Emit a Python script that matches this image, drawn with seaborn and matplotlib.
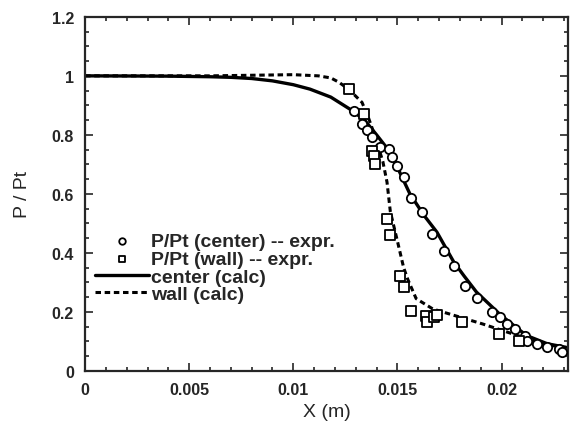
import numpy as np
import pandas as pd
import seaborn as sns
import matplotlib.pyplot as plt
from matplotlib.ticker import MultipleLocator, FuncFormatter

# calculated profiles
center_x = [0, 0.004, 0.006, 0.007, 0.008, 0.009, 0.010, 0.0108, 0.0118, 0.0127, 0.0134, 0.014,
            0.0145, 0.015, 0.0156, 0.0163, 0.0169, 0.0177, 0.0182, 0.0188, 0.01995, 0.0212,
            0.0222, 0.0231]
center_y = [1.0, 0.999, 0.997, 0.995, 0.991, 0.983, 0.970, 0.955, 0.928, 0.888, 0.852, 0.80,
            0.755, 0.69, 0.60, 0.525, 0.47, 0.37, 0.322, 0.267, 0.19, 0.12,
            0.092, 0.08]

wall_x = [0, 0.006, 0.01, 0.0112, 0.0118, 0.0122, 0.0127, 0.0133, 0.0136, 0.0139, 0.0143, 0.0145,
          0.01466, 0.015, 0.0153, 0.0155, 0.0159, 0.0167, 0.0175, 0.0191, 0.0203, 0.0215,
          0.0228, 0.0231]
wall_y = [1.0, 1.0, 1.004, 1.0, 0.993, 0.978, 0.952, 0.91, 0.86, 0.80, 0.71, 0.64,
          0.54, 0.44, 0.35, 0.31, 0.245, 0.21, 0.193, 0.159, 0.131, 0.103,
          0.08, 0.075]

# experimental points
center_exp_x = [0.0129, 0.0133, 0.01354, 0.01378, 0.01418, 0.01458, 0.01474, 0.01499, 0.0153,
                0.01563, 0.01618, 0.01666, 0.01723, 0.01771, 0.01827, 0.01883, 0.01955, 0.01995,
                0.02027, 0.02067, 0.02115, 0.02123, 0.02171, 0.0222, 0.02276, 0.02292]
center_exp_y = [0.882, 0.837, 0.815, 0.792, 0.758, 0.753, 0.724, 0.696, 0.656,
                0.585, 0.538, 0.464, 0.408, 0.357, 0.289, 0.246, 0.199, 0.182,
                0.159, 0.142, 0.12, 0.103, 0.092, 0.080, 0.075, 0.063]

wall_exp_x = [0.01266, 0.01338, 0.01378, 0.01386, 0.01394, 0.0145, 0.01466, 0.01514, 0.0153,
              0.01563, 0.01635, 0.01643, 0.01675, 0.01691, 0.01811, 0.01987, 0.02083]
wall_exp_y = [0.956, 0.871, 0.747, 0.73, 0.70, 0.515, 0.461, 0.323, 0.283,
              0.204, 0.185, 0.165, 0.182, 0.19, 0.165, 0.125, 0.103]

sns.set_style("ticks")
plt.rcParams['font.family'] = ['Liberation Sans', 'DejaVu Sans']

fig = plt.figure(figsize=(5.71, 4.35), dpi=100)
ax = fig.add_axes([0.149, 0.145, 0.846, 0.814])

sns.scatterplot(x=center_exp_x, y=center_exp_y, ax=ax, marker='o', s=45,
                facecolor='white', edgecolor='black', linewidth=1.3,
                label='P/Pt (center) -- expr.', zorder=3)
sns.scatterplot(x=wall_exp_x, y=wall_exp_y, ax=ax, marker='s', s=42,
                facecolor='white', edgecolor='black', linewidth=1.3,
                label='P/Pt (wall) -- expr.', zorder=3)
sns.lineplot(x=center_x, y=center_y, ax=ax, color='black', lw=2.4,
             label='center (calc)', sort=False)
sns.lineplot(x=wall_x, y=wall_y, ax=ax, color='black', lw=2.2,
             label='wall (calc)', sort=False)
ax.lines[-1].set_linestyle((0, (1.8, 1.2)))

ax.set_xlim(0, 0.0232)
ax.set_ylim(0, 1.2)
ax.xaxis.set_major_locator(MultipleLocator(0.005))
ax.xaxis.set_minor_locator(MultipleLocator(0.001))
ax.yaxis.set_major_locator(MultipleLocator(0.2))
ax.yaxis.set_minor_locator(MultipleLocator(0.05))
fmt = FuncFormatter(lambda v, p: '%g' % round(v, 6))
ax.xaxis.set_major_formatter(fmt)
ax.yaxis.set_major_formatter(fmt)
ax.tick_params(which='both', direction='in', top=True, right=True, width=1.2)
ax.tick_params(which='major', length=6, labelsize=11.5, pad=8)
ax.tick_params(which='minor', length=3)
for lab in ax.get_xticklabels() + ax.get_yticklabels():
    lab.set_fontweight('bold')
for sp in ax.spines.values():
    sp.set_linewidth(1.6)
    sp.set_visible(True)

ax.set_xlabel('X (m)', fontsize=14, labelpad=4)
ax.set_ylabel('P / Pt', fontsize=14, labelpad=15)

leg = ax.legend(loc='upper left', bbox_to_anchor=(0.02, 0.39), frameon=False,
                prop={'weight': 'bold', 'size': 14}, handlelength=2.8,
                handletextpad=0.1, labelspacing=0.0, markerscale=0.7,
                borderaxespad=0, borderpad=0)

fig.savefig('out.png', dpi=100)
